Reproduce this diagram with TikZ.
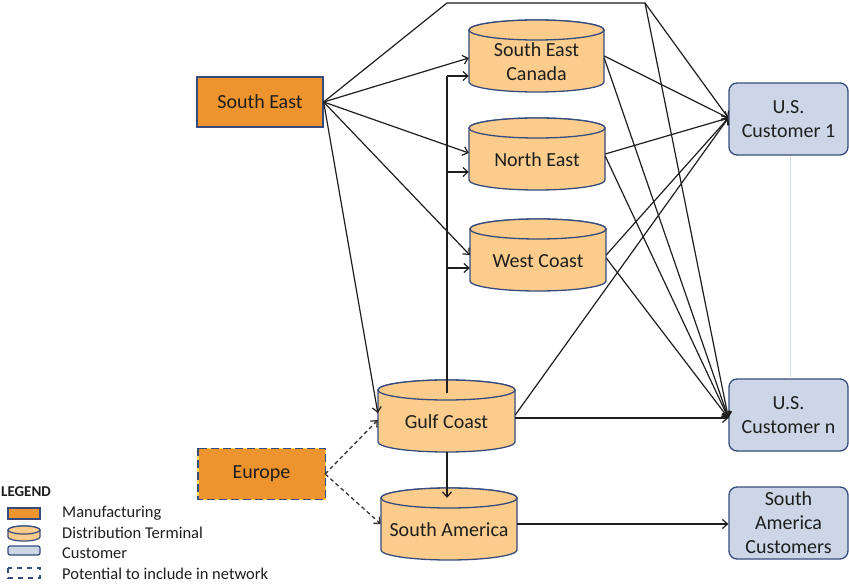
\documentclass[tikz,border=0pt]{standalone}
\usepackage{fontspec}
\setmainfont{Carlito}
\usetikzlibrary{arrows.meta}
\definecolor{mfg}{RGB}{238,148,47}
\definecolor{term}{RGB}{251,204,140}
\definecolor{cust}{RGB}{205,214,230}
\definecolor{bord}{RGB}{55,75,125}
\definecolor{ink}{RGB}{30,30,30}
\definecolor{faint}{RGB}{205,220,240}
\definecolor{dashyel}{RGB}{250,215,80}
\tikzset{
  lbl/.style={font=\fontsize{20}{24}\selectfont, text=ink, align=center, inner sep=0},
  legtxt/.style={font=\fontsize{16.5}{19}\selectfont, text=ink, anchor=west, inner sep=0},
  mfgbox/.style={draw=bord, line width=1.3pt, fill=mfg, minimum width=126pt, minimum height=50pt, inner sep=0, font=\fontsize{20}{24}\selectfont, text=ink},
  custbox/.style={draw=bord, line width=1.3pt, fill=cust, rounded corners=8pt, minimum width=119pt, minimum height=72pt, inner sep=0, align=center, font=\fontsize{20}{24}\selectfont, text=ink},
  cylbody/.style={draw=bord, line width=1.3pt, fill=term},
  cylbox/.style={rectangle, draw=none, minimum height=72pt, inner sep=0},
  conn/.style={draw=ink, line width=1.2pt},
  arr/.style={conn, -{Straight Barb[length=5pt,width=9pt]}},
  darr/.style={draw=ink!90, line width=1.3pt, dash pattern=on 4pt off 3pt, -{Straight Barb[length=5pt,width=9pt]}},
}
\newcommand\cylshape[5]{%
  \begin{scope}[shift={(#2,-#3)}]
    \filldraw[cylbody] (-#4/2,26) -- (-#4/2,-26) arc[start angle=180,end angle=360,x radius=#4/2,y radius=10] -- (#4/2,26) arc[start angle=0,end angle=180,x radius=#4/2,y radius=10] -- cycle;
    \draw[cylbody] (0,26) ellipse[x radius=#4/2,y radius=10];
    \node[cylbox, minimum width=#4 pt] (#1) at (0,0) {};
    \node[lbl] at (0,-6) {#5};
  \end{scope}}
\begin{document}
\begin{tikzpicture}[x=1pt,y=1pt]
\useasboundingbox (0,0) rectangle (849,-585);
% faint separator between customers
\draw[faint, line width=0.8pt] (790,-157) -- (790,-377);
% nodes
\node[mfgbox] (se) at (260,-102) {South East};
\begin{scope}
\node[mfgbox, draw=none] (eu) at (261.5,-474) {Europe};
\draw[dashyel, line width=1.3pt] (eu.north west) rectangle (eu.south east);
\draw[bord, line width=1.3pt, dash pattern=on 8pt off 4pt] (eu.north west) rectangle (eu.south east);
\end{scope}
\cylshape{sec}{536.5}{56}{135}{South East\\Canada}
\cylshape{ne}{537}{154}{136}{North East}
\cylshape{wc}{538}{255}{136}{West Coast}
\cylshape{gc}{446.5}{416}{137}{Gulf Coast}
\cylshape{sa}{449}{524}{136}{South America}
\node[custbox] (c1) at (788.5,-119) {U.S.\\Customer 1};
\node[custbox] (cn) at (788.5,-415) {U.S.\\Customer n};
\node[custbox] (sac) at (788.5,-523) {South\\America\\Customers};
% helper coordinates
\coordinate (cnin) at ([yshift=-3pt]cn.west);
\coordinate (c1in) at ([yshift=1pt]c1.west);
\coordinate (t1) at (447,-3);
\coordinate (t2) at (645,-3);
\coordinate (gctop) at (447,-393);
\coordinate (b1) at ([yshift=-20pt]sec.west);
\coordinate (b2) at ([yshift=-18pt]ne.west);
\coordinate (b3) at ([yshift=-13pt]wc.west);
% South East outflows
\draw[arr] (se.east) -- ([yshift=-2pt]sec.west);
\draw[arr] (se.east) -- ([yshift=1pt]ne.west);
\draw[arr] (se.east) -- (wc.west);
\draw[arr] (se.east) -- ([yshift=3pt]gc.west);
\draw[conn] (se.east) -- (t1) -- (t2);
\draw[arr] (t2) -- (c1in);
\draw[arr] (t2) -- (cnin);
% Gulf Coast spine
\draw[conn] (gctop) -- (gctop |- b1);
\draw[arr] (gctop |- b1) -- (b1);
\draw[arr] (gctop |- b2) -- (b2);
\draw[arr] (gctop |- b3) -- (b3);
\draw[arr] (gc.south -| gctop) -- ([yshift=-10pt]sa.north -| gctop);
\draw[arr] (gc.east |- cnin) -- (cnin);
\draw[arr] ([yshift=1pt]gc.east) -- (c1in);
% terminals to customers
\draw[arr] (sec.east) -- (c1in);
\draw[arr] ([yshift=-2pt]sec.east) -- (cnin);
\draw[arr] (ne.east) -- (c1in);
\draw[arr] ([yshift=-2pt]ne.east) -- (cnin);
\draw[arr] (wc.east) -- (c1in);
\draw[arr] ([yshift=-3pt]wc.east) -- (cnin);
\draw[arr] (sa.east) -- (sa.east -| sac.west);
% Europe potential
\draw[darr] (eu.east) -- ([yshift=-4pt]gc.west);
\draw[darr] (eu.east) -- (sa.west);
% legend
\node[font=\fontsize{15}{18}\selectfont\bfseries, text=ink, anchor=west, inner sep=0] (legt) at (1,-492) {LEGEND};
\filldraw[draw=bord, line width=1.2pt, fill=mfg] (8,-508) rectangle (40,-519);
\node[legtxt] (l1) at (62,-513) {Manufacturing};
\filldraw[cylbody, line width=1.2pt] (8,-530) -- (8,-537) arc[start angle=180,end angle=360,x radius=16,y radius=4] -- (40,-530) arc[start angle=0,end angle=180,x radius=16,y radius=4] -- cycle;
\draw[cylbody, line width=1.2pt] (24,-530) ellipse[x radius=16,y radius=4];
\node[legtxt] (l2) at (62,-533) {Distribution Terminal};
\filldraw[draw=bord, line width=1.2pt, fill=cust, rounded corners=2pt] (8,-546) rectangle (40,-555);
\node[legtxt] (l3) at (62,-553) {Customer};
\draw[bord, line width=1.2pt, dash pattern=on 5pt off 5pt] (8,-568) rectangle (40,-578);
\node[legtxt] (l4) at (62,-574) {Potential to include in network};
\end{tikzpicture}
\end{document}
